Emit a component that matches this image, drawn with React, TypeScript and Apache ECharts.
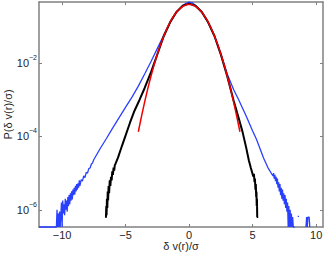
import React, { useEffect, useRef } from "react";
import * as echarts from "echarts";

// axis ranges (x in units of sigma, y as log10 of probability density)
const xRange = [-11.82, 10.54];
const log10PRange = [-6.47, -0.336];
const xTicks = [-10, -5, 0, 5, 10];
const yTickExponents = [-6, -4, -2];

const xTitle = "δ v(r)/σ";
const yTitle = "P(δ v(r)/σ)";

// blue curve: [x, log10 P]; null marks a gap (empty bins)
const blueCurve: [number, number | null][] = [
  [-11.82, -6.47], [-10.45, -6.47], [-10.4, -6.0], [-10.35, -6.47], [-10.3, -6.1],
  [-10.25, -6.47], [-10.2, -6.05], [-10.15, -6.47], [-10.1, -6.47], [-10.05, -5.8],
  [-10.0, -6.47], [-9.95, -5.75], [-9.9, -6.1], [-9.85, -5.85], [-9.8, -6.15],
  [-9.75, -5.7], [-9.7, -6.0], [-9.65, -5.75], [-9.6, -6.05], [-9.55, -5.65],
  [-9.5, -5.9], [-9.45, -5.6], [-9.4, -5.85], [-9.35, -5.55], [-9.3, -5.75],
  [-9.25, -5.5], [-9.2, -5.72], [-9.15, -5.45], [-9.1, -5.6], [-9.05, -5.4],
  [-9.0, -5.58], [-8.95, -5.35], [-8.9, -5.5], [-8.85, -5.3], [-8.8, -5.45],
  [-8.75, -5.28], [-8.7, -5.4], [-8.65, -5.2], [-8.6, -5.35], [-8.5, -5.18],
  [-8.4, -5.22], [-8.3, -5.08], [-8.2, -5.12], [-8.1, -4.98], [-8.0, -5.0],
  [-7.9, -4.88], [-7.8, -4.86], [-7.7, -4.76], [-7.6, -4.72], [-7.5, -4.63],
  [-7.0, -4.33], [-6.5, -4.05], [-6.0, -3.76], [-5.5, -3.48], [-5.0, -3.2],
  [-4.5, -2.93], [-4.0, -2.63], [-3.5, -2.3], [-3.0, -1.96], [-2.5, -1.6],
  [-2.0, -1.24], [-1.5, -0.9], [-1.0, -0.62], [-0.5, -0.43], [-0.25, -0.37],
  [0.0, -0.34], [0.25, -0.36], [0.5, -0.43], [1.0, -0.62], [1.5, -0.9],
  [2.0, -1.26], [2.5, -1.75], [3.0, -2.3], [3.5, -2.72], [3.9, -3.0],
  [4.5, -3.45], [5.0, -3.85], [5.3, -4.08], [5.6, -4.35], [5.85, -4.58],
  [6.2, -4.85], [6.6, -5.08], [6.65, -5.0], [6.7, -5.15], [6.75, -5.05],
  [6.8, -5.22], [6.85, -5.1], [6.9, -5.3], [6.95, -5.15], [7.0, -5.4],
  [7.05, -5.25], [7.1, -5.5], [7.15, -5.3], [7.2, -5.6], [7.25, -5.4],
  [7.3, -5.7], [7.35, -5.45], [7.4, -5.75], [7.45, -5.55], [7.5, -5.85],
  [7.55, -5.6], [7.6, -5.95], [7.65, -5.7], [7.7, -6.05], [7.75, -5.8],
  [7.8, -6.47], [7.85, -5.9], [7.9, -6.47], [7.95, -6.0], [8.0, -6.47],
  [8.05, -6.1], [8.1, -6.47], [8.15, -6.2], [8.2, -6.47], [8.3, -6.47],
  [8.4, null], [8.55, -6.18], [8.65, -6.18], [8.8, null],
  [9.2, -6.47], [9.25, -6.2], [9.3, -6.47], [9.35, -6.2], [9.45, -6.2], [9.5, -6.47],
];

// black curve: [x, log10 P]
const blackCurve: [number, number][] = [
  [-6.55, -6.22], [-6.52, -5.9], [-6.5, -6.15], [-6.47, -5.7], [-6.44, -5.95],
  [-6.41, -5.5], [-6.38, -5.75], [-6.34, -5.35], [-6.3, -5.55], [-6.25, -5.2],
  [-6.2, -5.35], [-6.15, -5.1], [-6.1, -5.2], [-6.05, -4.95], [-6.0, -5.05],
  [-5.95, -4.85], [-5.9, -4.93], [-5.85, -4.78], [-5.8, -4.75], [-5.6, -4.58],
  [-5.3, -4.27], [-5.0, -3.97], [-4.65, -3.62], [-4.3, -3.3], [-3.9, -3.0],
  [-3.5, -2.68], [-3.0, -2.25], [-2.5, -1.76], [-2.0, -1.27], [-1.5, -0.89],
  [-1.0, -0.61], [-0.5, -0.44], [0.0, -0.38], [0.5, -0.44], [1.0, -0.61],
  [1.5, -0.89], [2.0, -1.27], [2.5, -1.77], [3.0, -2.36], [3.5, -3.02],
  [3.9, -3.5], [4.2, -3.87], [4.5, -4.32], [4.7, -4.65], [4.85, -4.85],
  [5.05, -5.09], [5.1, -5.02], [5.15, -5.25], [5.18, -5.15], [5.22, -5.45],
  [5.25, -5.3], [5.28, -5.65], [5.3, -5.5], [5.32, -5.9], [5.34, -5.7],
  [5.36, -6.2], [5.44, -6.2],
];

// red curve (Gaussian reference): [x, log10 P]
const redCurve: [number, number][] = [
  [-4.0, -3.873], [-3.75, -3.452], [-3.5, -3.059], [-3.25, -2.692], [-3.0, -2.353],
  [-2.75, -2.041], [-2.5, -1.756], [-2.25, -1.498], [-2.0, -1.267], [-1.75, -1.064],
  [-1.5, -0.888], [-1.25, -0.738], [-1.0, -0.616], [-0.75, -0.521], [-0.5, -0.453],
  [-0.25, -0.413], [0.0, -0.399], [0.25, -0.413], [0.5, -0.453], [0.75, -0.521],
  [1.0, -0.616], [1.25, -0.738], [1.5, -0.888], [1.75, -1.064], [2.0, -1.267],
  [2.25, -1.498], [2.5, -1.756], [2.75, -2.041], [3.0, -2.353], [3.25, -2.692],
  [3.5, -3.059], [3.75, -3.452], [4.0, -3.873],
];

export default function App() {
  const ref = useRef<HTMLDivElement>(null);

  useEffect(() => {
    if (!ref.current) return;
    const chart = echarts.init(ref.current, null, { renderer: "svg" });
    const font = "'Liberation Sans', Arial, Helvetica, sans-serif";
    const axisGray = "#808080";
    const textColor = "#262626";
    const minus = (v: number) => (v < 0 ? "\u2212" + Math.abs(v) : String(v));
    const axisLine = { show: true, onZero: false, lineStyle: { color: axisGray, width: 1.5 } };
    const tick = (vals: number[]) => ({
      show: true,
      inside: true,
      length: 3,
      customValues: vals,
      lineStyle: { color: axisGray, width: 1 },
    });

    chart.setOption({
      animation: false,
      backgroundColor: "#ffffff",
      grid: {
        left: 39,
        right: 4,
        top: 2,
        bottom: 27,
        containLabel: false,
        outerBoundsMode: "none",
      },
      xAxis: [
        {
          type: "value",
          position: "bottom",
          min: xRange[0],
          max: xRange[1],
          axisLine,
          axisTick: tick(xTicks),
          axisLabel: {
            customValues: xTicks,
            formatter: minus,
            color: textColor,
            fontSize: 11,
            lineHeight: 11,
            fontFamily: font,
            margin: 2,
          },
          splitLine: { show: false },
          name: xTitle,
          nameLocation: "middle",
          nameGap: 13,
          nameMoveOverlap: false,
          nameTextStyle: {
            color: textColor,
            fontSize: 11,
            lineHeight: 11,
            fontFamily: font,
            verticalAlign: "top",
          },
        },
        {
          type: "value",
          position: "top",
          min: xRange[0],
          max: xRange[1],
          axisLine,
          axisTick: tick(xTicks),
          axisLabel: { show: false },
          splitLine: { show: false },
        },
      ],
      yAxis: [
        {
          type: "value",
          position: "left",
          min: log10PRange[0],
          max: log10PRange[1],
          axisLine,
          axisTick: tick(yTickExponents),
          axisLabel: {
            customValues: yTickExponents,
            formatter: (v: number) => `{b|10}{s|${minus(v)}}`,
            margin: 2,
            color: textColor,
            rich: {
              b: { fontSize: 11, lineHeight: 18, fontFamily: font, color: textColor },
              s: { fontSize: 7, lineHeight: 8, verticalAlign: "top", fontFamily: font, color: textColor },
            },
          },
          splitLine: { show: false },
          name: yTitle,
          nameLocation: "middle",
          nameGap: 26,
          nameMoveOverlap: false,
          nameTextStyle: { color: textColor, fontSize: 11, fontFamily: font },
        },
        {
          type: "value",
          position: "right",
          min: log10PRange[0],
          max: log10PRange[1],
          axisLine,
          axisTick: tick(yTickExponents),
          axisLabel: { show: false },
          splitLine: { show: false },
        },
      ],
      series: [
        {
          type: "line",
          data: blueCurve,
          showSymbol: false,
          symbol: "none",
          clip: false,
          connectNulls: false,
          lineStyle: { color: "#2a40ff", width: 1.3 },
          z: 3,
        },
        {
          type: "line",
          data: blackCurve,
          showSymbol: false,
          symbol: "none",
          clip: false,
          lineStyle: { color: "#000000", width: 2 },
          z: 4,
        },
        {
          type: "line",
          data: redCurve,
          showSymbol: false,
          symbol: "none",
          clip: false,
          lineStyle: { color: "#f00000", width: 1.5 },
          z: 5,
        },
      ],
    });

    return () => chart.dispose();
  }, []);

  return (
    <div
      ref={ref}
      style={{ position: "fixed", left: 0, top: 0, width: 327, height: 254, background: "#fff" }}
    />
  );
}
